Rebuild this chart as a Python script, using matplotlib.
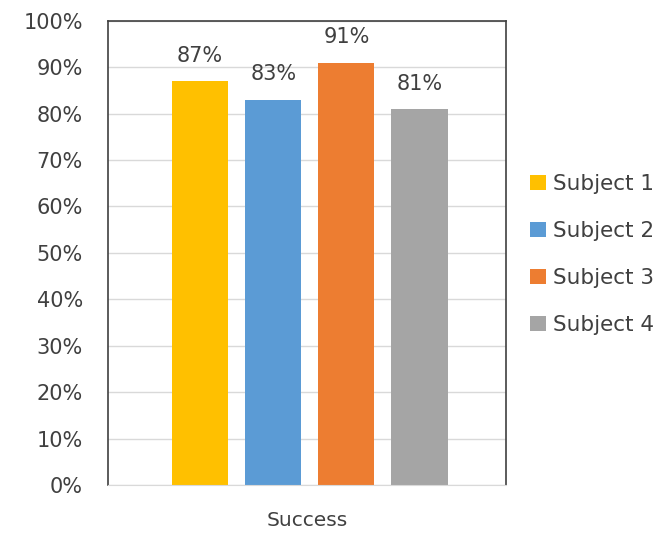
import matplotlib.pyplot as plt
from matplotlib.patches import Patch

subjects = ["Subject 1", "Subject 2", "Subject 3", "Subject 4"]
success = [87, 83, 91, 81]
colors = ["#FFC000", "#5B9BD5", "#ED7D31", "#A5A5A5"]
y_ticks = list(range(0, 101, 10))

plt.rcParams['font.family'] = ['DejaVu Sans']
text_color = "#404040"

fig = plt.figure(figsize=(6.62, 5.33), dpi=100)
ax = fig.add_axes([0.163, 0.090, 0.601, 0.871])

x = list(range(len(subjects)))
ax.bar(x, success, width=0.77, color=colors, zorder=2)

# value labels above bars
for xi, v in zip(x, success):
    ax.annotate(f"{v}%", (xi, v), xytext=(0, 14), textcoords="offset points",
                ha="center", va="baseline", fontsize=15, color=text_color)

ax.set_ylim(0, 100)
ax.set_xlim(-1.26, 4.18)
ax.set_yticks(y_ticks)
ax.set_yticklabels([f"{t}%" for t in y_ticks])
ax.tick_params(axis="y", length=0, pad=18, labelsize=15, labelcolor=text_color)
ax.set_xticks([])
ax.grid(axis="y", color="#D9D9D9", linewidth=1, zorder=0)

for side in ["left", "top", "right"]:
    ax.spines[side].set_color("#404040")
    ax.spines[side].set_linewidth(1.2)
ax.spines["bottom"].set_color("#D9D9D9")

ax.set_xlabel("Success", fontsize=14.5, color=text_color, labelpad=19)

handles = [Patch(facecolor=c, label=s) for c, s in zip(colors, subjects)]
fig.legend(handles=handles, loc="center left", bbox_to_anchor=(0.772, 0.523),
           frameon=False, fontsize=15.5, handlelength=0.7, handleheight=0.7,
           handletextpad=0.35, labelspacing=1.25, labelcolor=text_color)

fig.savefig("out.png", dpi=100)
